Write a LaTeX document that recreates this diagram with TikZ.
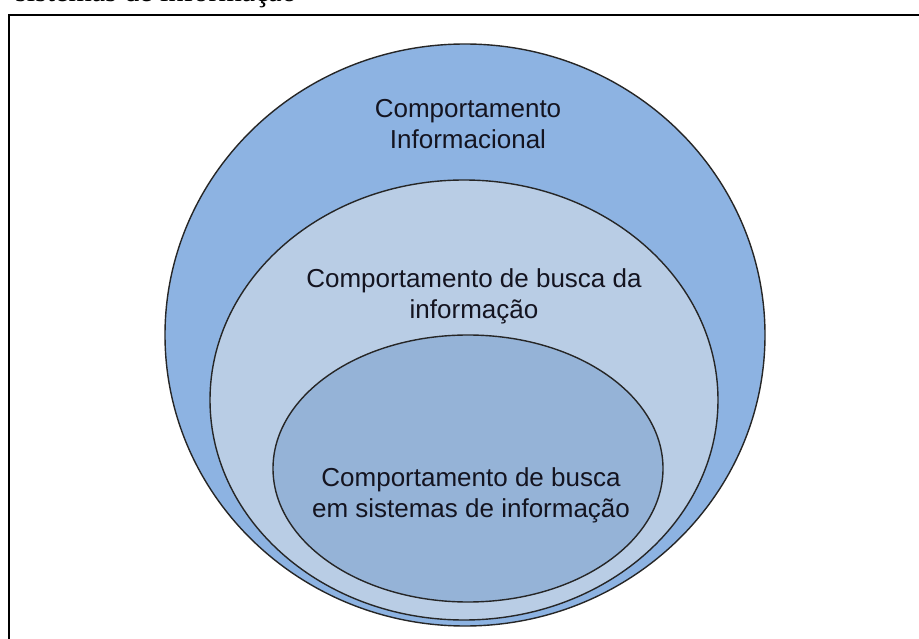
\documentclass[tikz,border=0pt]{standalone}
\usepackage{fontspec}
\setmainfont{Liberation Sans}
\newfontfamily\capserif{Liberation Serif}
\usetikzlibrary{shapes.geometric}
\definecolor{outerblue}{HTML}{8DB3E2}
\definecolor{midblue}{HTML}{B9CDE5}
\definecolor{innerblue}{HTML}{95B3D7}
\definecolor{txt}{HTML}{141420}
\tikzset{
  ring/.style={ellipse, draw=black!85, line width=1.4pt, inner sep=0pt, outer sep=0pt},
  lbl/.style={align=center, inner sep=0pt, text=txt, font=\fontsize{26}{31}\selectfont},
}
\begin{document}
\begin{tikzpicture}[x=1pt,y=-1pt]
\useasboundingbox (0,0) rectangle (919,639);
\fill[white] (0,0) rectangle (919,639);
\begin{scope}
\clip (0,0) rectangle (919,639);
\node[anchor=base west, inner sep=0pt, font=\capserif\fontsize{30}{36}\selectfont] (cap) at (15,2) {sistemas de informação};
\end{scope}
\coordinate (fbl) at (9,639);
\coordinate (ftl) at (9,15);
\coordinate (ftr) at (919,15);
\draw[line width=2.2pt] (fbl) -- (ftl) -- (ftr);
\node[ring, fill=outerblue, minimum width=600pt, minimum height=582pt] (outer) at (465,335) {};
\node[ring, fill=midblue, minimum width=508pt, minimum height=440pt] (middle) at (464,400) {};
\node[ring, fill=innerblue, minimum width=390pt, minimum height=267pt] (inner) at (468,468.5) {};
\node[lbl] (t1) at (468,124) {Comportamento\\Informacional};
\node[lbl] (t2) at (474,296.5) {Comportamento de busca da\\informação};
\node[lbl] (t3) at (471,495) {Comportamento de busca\\em sistemas de informação};
\end{tikzpicture}
\end{document}
